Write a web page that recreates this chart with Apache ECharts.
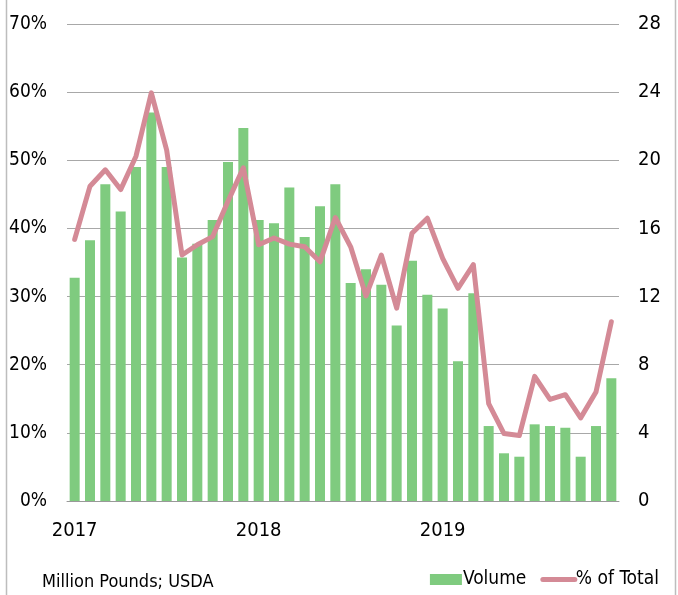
<!DOCTYPE html>
<html>
<head>
<meta charset="utf-8">
<script src="https://cdn.jsdelivr.net/npm/echarts@6/dist/echarts.min.js"></script>
<style>
  html, body { margin: 0; padding: 0; background: #fff; }
  #chart { width: 678px; height: 595px; }
</style>
</head>
<body>
<div id="chart"></div>
<script>
// monthly categories, 2017-2019
const months = [
  "2017-01", "2017-02", "2017-03", "2017-04", "2017-05", "2017-06",
  "2017-07", "2017-08", "2017-09", "2017-10", "2017-11", "2017-12",
  "2018-01", "2018-02", "2018-03", "2018-04", "2018-05", "2018-06",
  "2018-07", "2018-08", "2018-09", "2018-10", "2018-11", "2018-12",
  "2019-01", "2019-02", "2019-03", "2019-04", "2019-05", "2019-06",
  "2019-07", "2019-08", "2019-09", "2019-10", "2019-11", "2019-12"
]

// Volume (million pounds), right axis
const volume = [
  13.1, 15.3, 18.6, 17.0, 19.6, 22.8, 19.6, 14.3, 15.1, 16.5, 19.9, 21.9,
  16.5, 16.3, 18.4, 15.5, 17.3, 18.6, 12.8, 13.6, 12.7, 10.3, 14.1, 12.1,
  11.3, 8.2, 12.2, 4.4, 2.8, 2.6, 4.5, 4.4, 4.3, 2.6, 4.4, 7.2
]

// % of Total, left axis
const pctTotal = [
  38.4, 46.2, 48.6, 45.7, 50.6, 59.9, 51.5, 36.1, 37.6, 38.8, 44.0, 48.9,
  37.6, 38.6, 37.7, 37.3, 35.1, 41.6, 37.3, 30.1, 36.1, 28.3, 39.3, 41.5,
  35.6, 31.2, 34.7, 14.3, 9.9, 9.6, 18.3, 14.9, 15.6, 12.2, 16.0, 26.3
]

// x tick labels shown (by category index)
const yearTicks = { 0: "2017", 12: "2018", 24: "2019" }

const FONT = "'DejaVu Sans Condensed', 'DejaVu Sans', sans-serif"
const GREEN = "#7fcb7f"
const PINK = "#d48a96"
const INK = "#000"

const chart = echarts.init(document.getElementById("chart"), null, { renderer: "canvas" })

const option = {
  animation: false,
  textStyle: { fontFamily: FONT },
  grid: { left: 67, right: 59, top: 24, bottom: 94, containLabel: false },
  legend: {
    right: 14,
    bottom: 1,
    itemWidth: 32,
    itemHeight: 11,
    itemGap: 14,
    textStyle: { fontFamily: FONT, fontSize: 19, color: INK, padding: [0, 0, 0, -4] },
    data: [
      { name: "Volume", icon: "rect" },
      {
        name: "% of Total",
        itemStyle: { opacity: 0 },
        lineStyle: { width: 5, color: PINK, cap: "round" }
      }
    ]
  },
  xAxis: {
    type: "category",
    data: months,
    boundaryGap: true,
    axisLine: { lineStyle: { color: "#999", width: 1 } },
    axisTick: { show: false },
    axisLabel: {
      interval: 0,
      fontFamily: FONT,
      fontSize: 20,
      color: INK,
      margin: 20,
      formatter: (v, i) => yearTicks[i] || ""
    }
  },
  yAxis: [
    {
      type: "value",
      min: 0,
      max: 70,
      interval: 10,
      position: "left",
      axisLine: { show: false },
      axisTick: { show: false },
      splitLine: { lineStyle: { color: "#a8a8a8", width: 1 } },
      axisLabel: {
        fontFamily: FONT,
        fontSize: 19,
        color: INK,
        margin: 20,
        formatter: "{value}%"
      }
    },
    {
      type: "value",
      min: 0,
      max: 28,
      interval: 4,
      position: "right",
      axisLine: { show: false },
      axisTick: { show: false },
      splitLine: { show: false },
      axisLabel: {
        fontFamily: FONT,
        fontSize: 20,
        color: INK,
        margin: 19
      }
    }
  ],
  series: [
    {
      name: "Volume",
      type: "bar",
      yAxisIndex: 1,
      barWidth: 10,
      itemStyle: { color: GREEN },
      data: volume
    },
    {
      name: "% of Total",
      type: "line",
      yAxisIndex: 0,
      symbol: "none",
      smooth: false,
      lineStyle: { color: PINK, width: 5, join: "round", cap: "round" },
      itemStyle: { color: PINK },
      data: pctTotal
    }
  ],
  graphic: [
    {
      type: "line",
      shape: { x1: 6.5, y1: 0, x2: 6.5, y2: 595 },
      style: { stroke: "#bdbdbd", lineWidth: 1.5 }
    },
    {
      type: "line",
      shape: { x1: 675.5, y1: 0, x2: 675.5, y2: 595 },
      style: { stroke: "#bdbdbd", lineWidth: 1.5 }
    },
    {
      type: "text",
      left: 42,
      top: 573,
      style: {
        text: "Million Pounds; USDA",
        font: "18px " + FONT,
        fill: INK
      }
    }
  ]
}

chart.setOption(option)
</script>
</body>
</html>
